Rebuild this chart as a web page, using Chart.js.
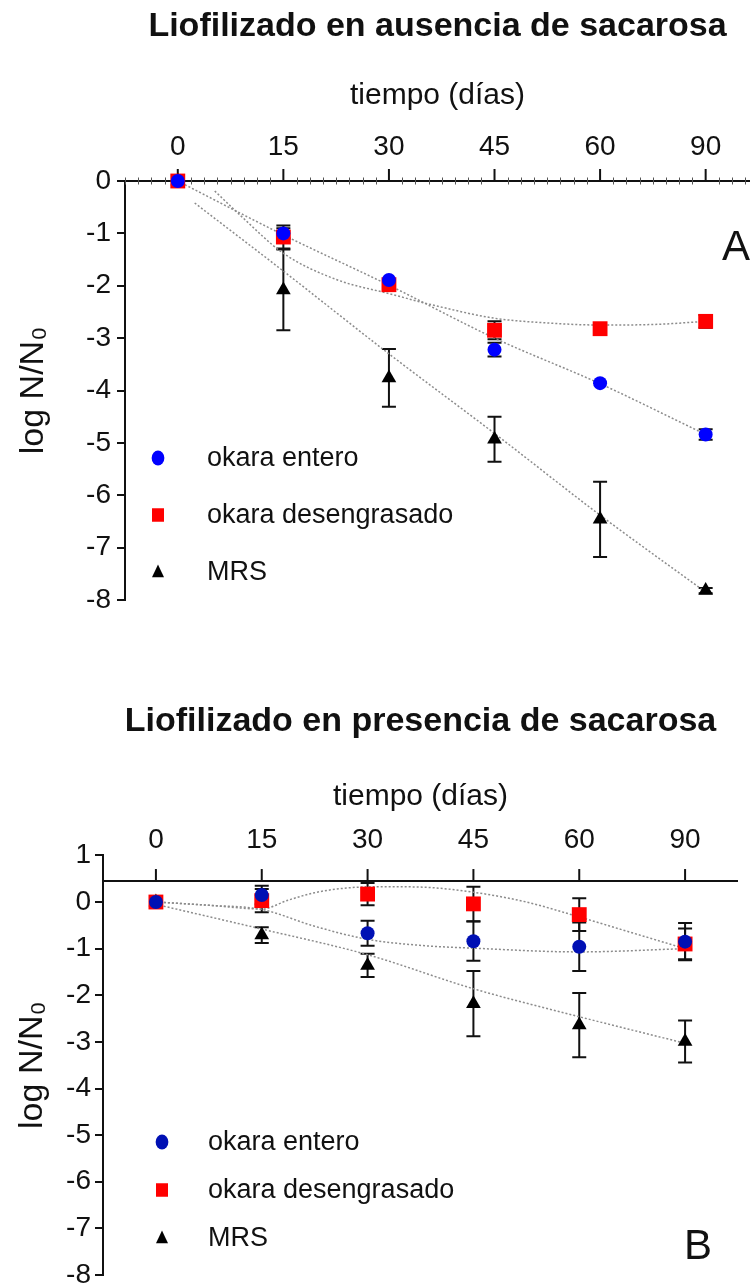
<!DOCTYPE html>
<html><head><meta charset="utf-8">
<script src="https://cdn.jsdelivr.net/npm/chart.js@4/dist/chart.umd.min.js"></script>
<style>
html,body{margin:0;padding:0;background:#fff;overflow:hidden;width:750px;height:1288px;}
.wrap{position:absolute;left:0;width:750px;}
#w1{top:0;height:650px;}
#w2{top:650px;height:638px;}
canvas{display:block;}
</style></head><body>
<div class="wrap" id="w1"><canvas id="c1" width="750" height="650"></canvas></div>
<div class="wrap" id="w2"><canvas id="c2" width="750" height="638"></canvas></div>
<script>
// ---- shared categories ----
const dayLabels = ['0','15','30','45','60','90'];
const timeIndex = [0,1,2,3,4,5];
const seriesNames = ['okara entero','okara desengrasado','MRS'];

// ---- Panel A: sin sacarosa ----
const aEntero     = [0, -1.00, -1.89, -3.22, -3.86, -4.84];
const aEnteroErr  = [0, 0.10, 0, 0.13, 0, 0.10];
const aDeseng     = [0, -1.07, -1.98, -2.85, -2.82, -2.68];
const aDesengErr  = [0, 0.22, 0, 0.17, 0, 0.12];
const aMRS        = [0, -2.08, -3.76, -4.93, -6.46, -7.82];
const aMRSErr     = [0, 0.77, 0.55, 0.43, 0.72, 0.05];
// fitted curves (x in time-index units)
const aFitEnteroX = [0, 1, 2, 3, 4, 5];
const aFitEnteroY = [0, -1.03, -1.99, -3.0, -3.87, -4.84];
const aFitDesengX = [0.35, 0.6, 1.0, 1.5, 2.0, 2.4, 3.0, 3.5, 4.0, 4.5, 5.0];
const aFitDesengY = [-0.19, -0.67, -1.38, -1.88, -2.15, -2.36, -2.62, -2.71, -2.75, -2.74, -2.68];
const aFitMRSX    = [0.16, 1, 2, 3, 4, 5];
const aFitMRSY    = [-0.42, -1.72, -3.3, -4.82, -6.38, -7.85];

// ---- Panel B: con sacarosa ----
const bEntero     = [0, 0.15, -0.67, -0.84, -0.96, -0.85];
const bEnteroErr  = [0, 0.20, 0.27, 0.42, 0.52, 0.40];
const bDeseng     = [0, 0.03, 0.17, -0.04, -0.27, -0.90];
const bDesengErr  = [0, 0.25, 0.24, 0.37, 0.35, 0.33];
const bMRS        = [0, -0.71, -1.36, -2.18, -2.64, -2.99];
const bMRSErr     = [0, 0.17, 0.25, 0.70, 0.69, 0.45];
const bFitEnteroX = [0, 0.5, 1, 1.5, 2, 2.5, 3, 4, 5];
const bFitEnteroY = [0, -0.07, -0.16, -0.52, -0.80, -0.93, -0.99, -1.07, -1.00];
const bFitDesengX = [0, 0.5, 1, 1.25, 1.5, 1.8, 2.1, 2.5, 3, 3.5, 4, 4.5, 5];
const bFitDesengY = [0, -0.07, -0.15, 0.04, 0.20, 0.30, 0.33, 0.32, 0.21, 0.0, -0.32, -0.66, -1.0];
const bFitMRSX    = [0, 1, 2, 3, 4, 5];
const bFitMRSY    = [-0.05, -0.58, -1.13, -1.86, -2.46, -3.03];

Chart.defaults.font.family = "'Liberation Sans', Arial, sans-serif";
Chart.defaults.color = '#111';

const INK = '#111';

function pts(xs, ys) { return xs.map((x, i) => ({x: x, y: ys[i]})); }
function markerDs(label, ys, errs, style, color, r) {
  return { label: label, data: pts(timeIndex, ys), errors: errs, showLine: false,
    pointStyle: style, pointRadius: r, pointHoverRadius: r,
    pointBackgroundColor: color, pointBorderColor: color, pointBorderWidth: 0, clip: false };
}
function fitDs(xs, ys) {
  return { label: '', data: pts(xs, ys), showLine: true, pointRadius: 0, pointHoverRadius: 0,
    borderColor: '#8c8c8c', borderWidth: 1.5, borderDash: [2, 2],
    cubicInterpolationMode: 'monotone', fill: false, clip: false, isFit: true };
}

// axis line at a given y value, with major (and optional minor) ticks
const axisLinePlugin = {
  id: 'axisLine',
  beforeDatasetsDraw(chart, args, o) {
    const {ctx, chartArea: ca, scales: {x, y}} = chart;
    const yp = y.getPixelForValue(o.value);
    ctx.save();
    ctx.strokeStyle = INK; ctx.lineWidth = 2;
    ctx.beginPath(); ctx.moveTo(ca.left - 1, yp); ctx.lineTo(ca.right, yp); ctx.stroke();
    x.ticks.forEach(t => {
      const xp = x.getPixelForValue(t.value);
      ctx.beginPath(); ctx.moveTo(xp, yp); ctx.lineTo(xp, yp - o.tickLength); ctx.stroke();
    });
    if (o.minorPerMajor) {
      const n = o.minorPerMajor;
      ctx.strokeStyle = '#555'; ctx.lineWidth = 1;
      for (let k = Math.ceil(x.min * n); k <= Math.floor(x.max * n); k++) {
        if (k % n === 0) continue;
        const xp = Math.round(x.getPixelForValue(k / n)) + 0.5;
        ctx.beginPath(); ctx.moveTo(xp, yp - 3.5); ctx.lineTo(xp, yp + 3.5); ctx.stroke();
      }
    }
    ctx.restore();
  }
};

const errorBarPlugin = {
  id: 'errorBars',
  beforeDatasetsDraw(chart) {
    const {ctx, scales: {x, y}} = chart;
    ctx.save();
    ctx.strokeStyle = INK; ctx.lineWidth = 2;
    chart.data.datasets.forEach(ds => {
      if (!ds.errors) return;
      ds.data.forEach((p, i) => {
        const e = ds.errors[i];
        if (!e) return;
        const xp = x.getPixelForValue(p.x);
        const y1 = y.getPixelForValue(p.y + e), y2 = y.getPixelForValue(p.y - e);
        ctx.beginPath();
        ctx.moveTo(xp, y1); ctx.lineTo(xp, y2);
        ctx.moveTo(xp - 7, y1); ctx.lineTo(xp + 7, y1);
        ctx.moveTo(xp - 7, y2); ctx.lineTo(xp + 7, y2);
        ctx.stroke();
      });
    });
    ctx.restore();
  }
};

function drawMarker(ctx, style, x, y, r, color) {
  ctx.fillStyle = color;
  ctx.beginPath();
  if (style === 'circle') { ctx.ellipse(x, y, r * 0.85, r, 0, 0, Math.PI * 2); }
  else if (style === 'rect') { ctx.rect(x - r * 0.8, y - r * 0.9, r * 1.6, r * 1.8); }
  else { ctx.moveTo(x, y - r); ctx.lineTo(x + r * 0.8, y + r * 0.7); ctx.lineTo(x - r * 0.8, y + r * 0.7); ctx.closePath(); }
  ctx.fill();
}

const seriesKeyPlugin = {
  id: 'seriesKey',
  afterDraw(chart, args, o) {
    const ctx = chart.ctx;
    ctx.save();
    ctx.font = o.fontSize + "px 'Liberation Sans', Arial, sans-serif";
    ctx.textBaseline = 'middle'; ctx.textAlign = 'left';
    let row = 0;
    chart.data.datasets.forEach(ds => {
      if (ds.isFit) return;
      const yy = o.ys[row++];
      drawMarker(ctx, ds.pointStyle, o.markerX, yy, 7.5, ds.pointBackgroundColor);
      ctx.fillStyle = INK;
      ctx.fillText(ds.label, o.textX, yy + 1);
    });
    ctx.restore();
  }
};

const panelLetterPlugin = {
  id: 'panelLetter',
  afterDraw(chart, args, o) {
    const ctx = chart.ctx;
    ctx.save();
    ctx.font = o.fontSize + "px 'Liberation Sans', Arial, sans-serif";
    ctx.fillStyle = INK; ctx.textAlign = 'center'; ctx.textBaseline = 'middle';
    ctx.fillText(o.text, o.x, o.y);
    ctx.restore();
  }
};

function buildChart(id, cfg) {
  const datasets = [
    markerDs(seriesNames[0], cfg.entero, cfg.enteroErr, 'circle', cfg.blue, 7),
    markerDs(seriesNames[1], cfg.deseng, cfg.desengErr, 'rect', '#ff0000', 10.5),
    markerDs(seriesNames[2], cfg.mrs, cfg.mrsErr, 'triangle', '#000000', 8.5),
    fitDs(cfg.fitEX, cfg.fitEY), fitDs(cfg.fitDX, cfg.fitDY), fitDs(cfg.fitMX, cfg.fitMY)
  ];
  return new Chart(document.getElementById(id), {
    type: 'scatter',
    data: { datasets: datasets },
    plugins: [axisLinePlugin, errorBarPlugin, seriesKeyPlugin, panelLetterPlugin],
    options: {
      responsive: false, animation: false, devicePixelRatio: 1, events: [],
      layout: { padding: cfg.padding, autoPadding: false },
      plugins: {
        legend: { display: false }, tooltip: { enabled: false },
        title: { display: true, text: cfg.title, fullSize: false, color: INK,
          font: { size: 34, weight: 'bold' }, padding: { top: cfg.titlePad, bottom: 0 } },
        axisLine: cfg.axisLine,
        seriesKey: cfg.key,
        panelLetter: cfg.letter
      },
      scales: {
        x: {
          type: 'linear', position: 'top', min: -0.5, max: cfg.xMax,
          afterBuildTicks: s => { s.ticks = timeIndex.map(v => ({ value: v })); },
          ticks: { callback: v => dayLabels[v], font: { size: 28 }, color: INK,
            padding: cfg.xTickPad, maxRotation: 0, autoSkip: false },
          grid: { drawOnChartArea: false, color: 'rgba(0,0,0,0)', drawTicks: cfg.xDrawTicks, tickLength: 12 },
          border: { display: false },
          title: { display: true, text: 'tiempo (días)', color: INK, font: { size: 30 },
            padding: { top: cfg.xTitlePad, bottom: 0 } },
          afterFit: s => { s.height = cfg.xHeight; s.paddingLeft = 0; s.paddingRight = 0; }
        },
        y: {
          min: cfg.yMin, max: cfg.yMax,
          ticks: { stepSize: 1, font: { size: 28 }, color: INK, padding: cfg.yTickPad },
          grid: { drawOnChartArea: false, color: INK, lineWidth: 2, tickLength: 8 },
          border: { display: true, color: INK, width: 2 },
          title: { display: true, text: 'log N/N₀', color: INK, font: { size: 34 },
            padding: { top: cfg.yTitlePad, bottom: 0 } },
          afterFit: s => { s.width = cfg.yWidth; s.paddingTop = 0; s.paddingBottom = 0; }
        }
      }
    }
  });
}

buildChart('c1', {
  title: 'Liofilizado en ausencia de sacarosa', titlePad: 6.6,
  blue: '#0000ff',
  entero: aEntero, enteroErr: aEnteroErr, deseng: aDeseng, desengErr: aDesengErr, mrs: aMRS, mrsErr: aMRSErr,
  fitEX: aFitEnteroX, fitEY: aFitEnteroY, fitDX: aFitDesengX, fitDY: aFitDesengY, fitMX: aFitMRSX, fitMY: aFitMRSY,
  padding: { left: 0, right: 0, top: 0, bottom: 50 },
  xMax: 5.42, xHeight: 133.6, xTickPad: 5, xDrawTicks: true, xTitlePad: 30.6,
  yMin: -8, yMax: 0, yWidth: 125, yTickPad: 6, yTitlePad: 13,
  axisLine: { value: 0, tickLength: 12, minorPerMajor: 8 },
  key: { markerX: 158, ys: [458, 515, 572], textX: 207, fontSize: 27 },
  letter: { text: 'A', x: 736, y: 248, fontSize: 42 }
});

buildChart('c2', {
  title: 'Liofilizado en presencia de sacarosa', titlePad: 51.6,
  blue: '#0010b4',
  entero: bEntero, enteroErr: bEnteroErr, deseng: bDeseng, desengErr: bDesengErr, mrs: bMRS, mrsErr: bMRSErr,
  fitEX: bFitEnteroX, fitEY: bFitEnteroY, fitDX: bFitDesengX, fitDY: bFitDesengY, fitMX: bFitMRSX, fitMY: bFitMRSY,
  padding: { left: 0, right: 12, top: 0, bottom: 13 },
  xMax: 5.5, xHeight: 113, xTickPad: -2, xDrawTicks: false, xTitlePad: 36,
  yMin: -8, yMax: 1, yWidth: 103, yTickPad: 4, yTitlePad: 12,
  axisLine: { value: 0.45, tickLength: 12, minorPerMajor: 0 },
  key: { markerX: 162, ys: [492, 540, 588], textX: 208, fontSize: 27 },
  letter: { text: 'B', x: 698, y: 597, fontSize: 42 }
});
</script>
</body></html>
